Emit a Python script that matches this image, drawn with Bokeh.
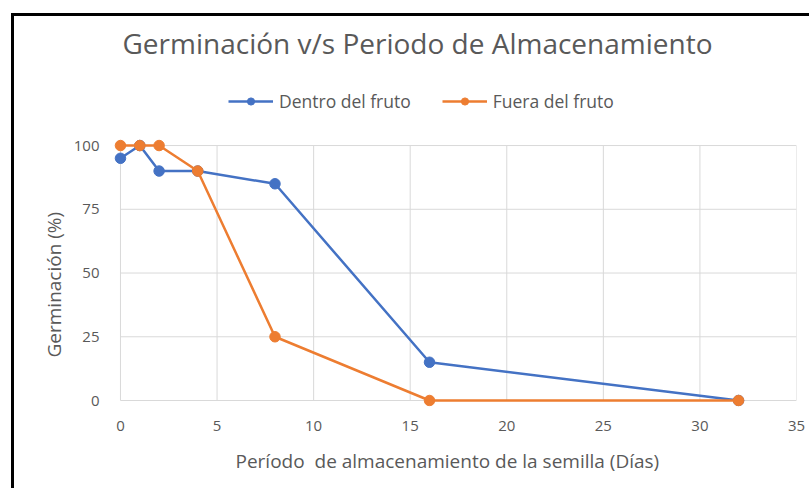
from bokeh.plotting import figure
from bokeh.models import Range1d, FixedTicker, Legend, LegendItem, Title
from bokeh.embed import file_html
from bokeh.resources import INLINE

# Data
dias = [0, 1, 2, 4, 8, 16, 32]
dentro = [95, 100, 90, 90, 85, 15, 0]
fuera = [100, 100, 100, 90, 25, 0, 0]
x_ticks = [0, 5, 10, 15, 20, 25, 30, 35]
y_ticks = [0, 25, 50, 75, 100]

FONT = "Open Sans"
GRAY = "#595959"
GRID = "#d9d9d9"
BLUE = "#4472C4"
ORANGE = "#ED7D31"

p = figure(width=798, height=475, output_backend="svg", toolbar_location=None,
           x_range=Range1d(-0.62, 35), y_range=Range1d(-2.35, 131.0),
           min_border_left=94, min_border_right=16, min_border_top=50, min_border_bottom=85,
           title="Germinación v/s Periodo de Almacenamiento")
p.styles = {"border-top": "3px solid black", "border-left": "3px solid black",
            "margin-left": "11px", "margin-top": "13px"}

p.outline_line_color = None
p.background_fill_color = "white"
p.xgrid.visible = False
p.ygrid.visible = False

p.title.text_font = FONT
p.title.text_font_size = "28px"
p.title.text_font_style = "normal"
p.title.text_color = GRAY
p.title.align = "left"
p.title.offset = 14
p.title.standoff = 10

for ax in (p.xaxis[0], p.yaxis[0]):
    ax.axis_line_color = None
    ax.major_tick_line_color = None
    ax.minor_tick_line_color = None
    ax.major_label_text_font = FONT
    ax.major_label_text_font_size = "15px"
    ax.major_label_text_color = GRAY

p.xaxis.ticker = FixedTicker(ticks=x_ticks)
p.yaxis.ticker = FixedTicker(ticks=y_ticks)
p.xaxis.major_label_standoff = 8
p.yaxis.major_label_standoff = 3

# axis titles
xt = Title(text="Período \u00a0de almacenamiento de la semilla (Días)", align="left", offset=127,
           text_font=FONT, text_font_size="19px", text_font_style="normal", text_color=GRAY,
           standoff=25)
yt = Title(text="Germinación (%)", align="left", offset=49,
           text_font=FONT, text_font_size="19px", text_font_style="normal", text_color=GRAY,
           standoff=8)
p.add_layout(xt, "below")
p.add_layout(yt, "left")

# grid lines from the tick arrays
p.segment(x0=x_ticks, x1=x_ticks, y0=[y_ticks[0]] * len(x_ticks), y1=[y_ticks[-1]] * len(x_ticks),
          line_color=GRID, line_width=1)
p.segment(x0=[x_ticks[0]] * len(y_ticks), x1=[x_ticks[-1]] * len(y_ticks), y0=y_ticks, y1=y_ticks,
          line_color=GRID, line_width=1)

l1 = p.line(dias, dentro, line_color=BLUE, line_width=2.5)
s1 = p.scatter(dias, dentro, size=10.5, fill_color=BLUE, line_color=BLUE)
l2 = p.line(dias, fuera, line_color=ORANGE, line_width=2.5)
s2 = p.scatter(dias, fuera, size=10.5, fill_color=ORANGE, line_color=ORANGE)

legend = Legend(items=[LegendItem(label="Dentro del fruto", renderers=[l1, s1]),
                       LegendItem(label="Fuera del fruto", renderers=[l2, s2])],
                orientation="horizontal", location=(120, 293),
                label_text_font=FONT, label_text_font_size="17.5px", label_text_color=GRAY,
                glyph_width=45, glyph_height=18, spacing=31, label_standoff=6,
                border_line_color=None, background_fill_alpha=0,
                padding=0, margin=0)
p.add_layout(legend, "center")

open("out.html", "w").write(file_html(p, INLINE))
